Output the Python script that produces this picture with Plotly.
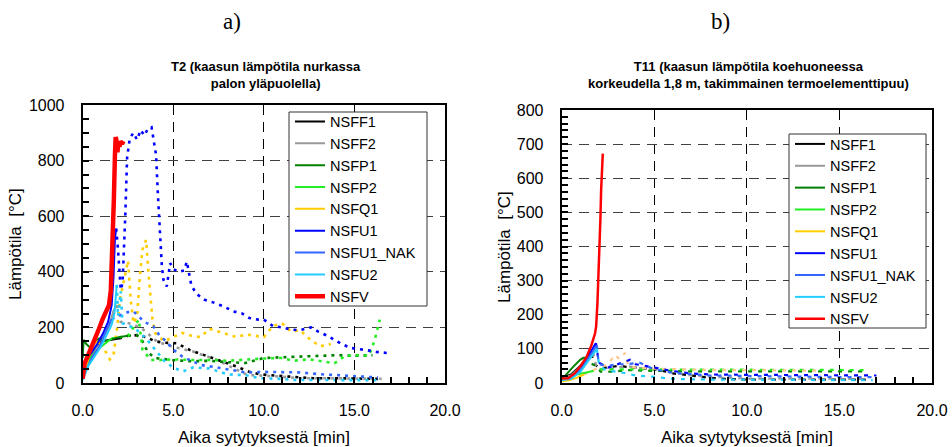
import plotly.graph_objects as go

# ---------------- DATA ----------------
NAMES = ["NSFF1", "NSFF2", "NSFP1", "NSFP2", "NSFQ1", "NSFU1", "NSFU1_NAK", "NSFU2", "NSFV"]
COLORS = ["#000000", "#999999", "#008000", "#22EE22", "#FFCC00", "#0000FF", "#3366FF", "#22CCFF", "#FF0000"]

X_TICKS = [0, 5, 10, 15, 20]

# ---- panel a) T2 : time [min] / temperature [°C]; solid part then dotted part
A_NSFF1_solid_t = [0, 0.3, 0.6, 1.0, 1.5, 2.0]
A_NSFF1_solid_v = [20, 80, 120, 150, 155, 160]
A_NSFF1_dot_t = [2.0, 2.5, 3.0, 3.5, 4.0, 4.5, 5.2, 5.9, 6.5, 7.2, 8.0, 8.5, 9.2, 9.8, 11.0, 12.7, 14.0, 15.3, 16.3]
A_NSFF1_dot_v = [160, 170, 172, 165, 150, 145, 143, 119, 105, 89, 72, 59, 40, 31, 25, 17, 17, 17, 15]

A_NSFF2_solid_t = [0, 0.5, 1.0, 1.4, 1.7, 1.9]
A_NSFF2_solid_v = [15, 100, 160, 190, 260, 280]
A_NSFF2_dot_t = [1.9, 2.1, 2.6, 3.2, 3.7, 4.1, 5.0, 6.1, 7.4, 8.3, 9.1, 10.7, 12.0, 13.5, 15.0, 16.5]
A_NSFF2_dot_v = [280, 220, 214, 200, 172, 149, 130, 113, 83, 53, 29, 24, 17, 17, 16, 15]

A_NSFP1_solid_t = [0, 0.05, 0.2, 0.4, 0.6, 0.9, 1.2, 1.5, 2.0, 2.5]
A_NSFP1_solid_v = [90, 155, 140, 128, 140, 160, 150, 155, 165, 170]
A_NSFP1_dot_t = [2.5, 3.0, 3.3, 3.6, 4.0, 5.0, 6.0, 7.0, 8.0, 9.0, 10.0, 11.0, 12.0, 13.0, 14.0, 15.0, 16.0]
A_NSFP1_dot_v = [170, 172, 150, 110, 90, 82, 78, 80, 75, 72, 90, 92, 95, 96, 100, 98, 100]

A_NSFP2_solid_t = [0, 0.4, 0.8, 1.2, 1.6]
A_NSFP2_solid_v = [20, 90, 120, 140, 160]
A_NSFP2_dot_t = [1.6, 2.0, 2.5, 2.9, 3.1, 3.3, 3.75, 4.3, 5.0, 6.0, 7.2, 8.0, 9.0, 10.0, 11.0, 11.6, 12.5, 13.9, 14.5, 15.2, 15.8, 16.1, 16.4]
A_NSFP2_dot_v = [160, 165, 170, 210, 228, 120, 83, 83, 85, 83, 83, 80, 85, 88, 90, 80, 85, 71, 98, 100, 98, 150, 228]

A_NSFQ1_solid_t = [0, 0.3, 0.5, 0.8, 1.0]
A_NSFQ1_solid_v = [15, 80, 130, 150, 140]
A_NSFQ1_dot_t = [1.0, 1.2, 1.5, 1.7, 1.9, 2.05, 2.25, 2.5, 2.65, 2.8, 3.0, 3.15, 3.3, 3.5, 3.65, 3.85, 4.0, 4.5, 5.0, 5.5, 6.0, 6.5, 7.0, 7.5, 8.0, 8.5, 9.0, 9.5, 10.0, 10.5, 11.0, 11.5, 12.0, 12.5, 13.1, 13.7]
A_NSFQ1_dot_v = [140, 120, 85, 100, 200, 300, 360, 440, 300, 215, 240, 380, 480, 515, 380, 230, 180, 150, 165, 180, 170, 165, 195, 185, 175, 165, 175, 170, 165, 205, 215, 185, 190, 160, 132, 140]

A_NSFU1_solid_t = [0, 0.2, 0.5, 0.8, 1.1, 1.4, 1.6, 1.7, 1.78, 1.85]
A_NSFU1_solid_v = [30, 90, 110, 140, 175, 220, 280, 380, 520, 555]
A_NSFU1_dot_t = [1.85, 1.95, 2.1, 2.2, 2.35, 2.45, 2.6, 2.8, 3.0, 3.2, 3.4, 3.6, 3.8, 3.9, 4.05, 4.15, 4.25, 4.37, 4.46, 4.64, 4.83, 5.0, 5.3, 5.6, 5.75, 6.0, 6.3, 6.7, 7.2, 7.8, 8.3, 8.8, 9.2, 9.7, 10.0, 10.5, 11.0, 11.5, 12.0, 12.6, 13.0, 13.5, 13.9, 14.3, 14.8, 15.3, 15.7, 16.2, 16.8]
A_NSFU1_dot_v = [555, 480, 335, 360, 600, 810, 880, 900, 875, 910, 890, 915, 920, 880, 820, 680, 550, 420, 371, 347, 431, 410, 400, 405, 437, 350, 320, 300, 290, 275, 258, 250, 234, 228, 228, 205, 200, 192, 190, 200, 185, 170, 155, 140, 126, 122, 118, 112, 108]

A_NSFU1_NAK_solid_t = [0, 0.5, 1.0, 1.3, 1.6]
A_NSFU1_NAK_solid_v = [20, 90, 140, 190, 230]
A_NSFU1_NAK_dot_t = [1.6, 2.0, 2.5, 2.8, 3.0, 3.4, 3.9, 4.2, 4.6, 5.0, 5.5, 6.0, 6.5, 7.5, 8.5, 9.0, 10.0, 11.0, 12.0, 13.0, 14.0, 15.0, 16.3]
A_NSFU1_NAK_dot_v = [230, 240, 255, 258, 245, 220, 204, 175, 150, 120, 95, 80, 65, 55, 45, 38, 40, 38, 38, 32, 28, 24, 20]

A_NSFU2_solid_t = [0, 0.3, 0.6, 1.0, 1.3, 1.6, 1.75, 1.88]
A_NSFU2_solid_v = [10, 60, 90, 130, 170, 210, 250, 353]
A_NSFU2_dot_t = [1.88, 1.95, 2.1, 2.2, 2.6, 3.0, 3.5, 4.0, 4.5, 5.0, 5.55, 6.1, 7.0, 8.0, 9.0, 9.8, 10.9, 11.6, 13.0, 14.5, 16.4]
A_NSFU2_dot_v = [353, 240, 330, 215, 205, 190, 160, 120, 80, 55, 42, 56, 52, 31, 28, 17, 15, 11, 11, 10, 10]

A_NSFV_solid_t = [0, 0.1, 0.3, 0.5, 0.7, 0.9, 1.1, 1.3, 1.45, 1.55, 1.65, 1.72, 1.78, 1.82, 1.87, 1.92, 1.97, 2.03, 2.1, 2.17, 2.25]
A_NSFV_solid_v = [15, 70, 100, 130, 160, 195, 230, 265, 280, 330, 480, 660, 820, 885, 870, 830, 870, 850, 870, 860, 870]
A_NSFV_dot_t = []
A_NSFV_dot_v = []

# ---- panel b) T11
B_NSFF1_solid_t = [0, 0.5, 1.0, 1.4, 1.6]
B_NSFF1_solid_v = [15, 25, 50, 75, 85]
B_NSFF1_dot_t = [1.6, 1.8, 2.0, 2.5, 3.0, 3.5, 4.0, 5.0, 5.5, 6.0, 7.0, 8.0, 9.0, 10.0, 12.0, 14.0, 16.5]
B_NSFF1_dot_v = [85, 55, 45, 45, 50, 48, 45, 40, 35, 28, 22, 15, 12, 10, 10, 10, 10]

B_NSFF2_solid_t = [0, 0.5, 1.0, 1.4, 1.7]
B_NSFF2_solid_v = [14, 22, 48, 72, 90]
B_NSFF2_dot_t = [1.7, 1.9, 2.5, 3.0, 3.5, 4.0, 5.0, 6.0, 7.0, 8.0, 10.0, 12.0, 14.0, 16.5]
B_NSFF2_dot_v = [90, 40, 40, 45, 50, 45, 40, 30, 22, 18, 13, 13, 13, 12]

B_NSFP1_solid_t = [0, 0.18, 0.63, 1.0, 1.2]
B_NSFP1_solid_v = [15, 21, 48, 68, 75]
B_NSFP1_dot_t = [1.2, 1.5, 1.9, 2.1, 2.8, 3.5, 4.5, 5.7, 7.0, 9.0, 11.0, 13.0, 15.0, 16.3]
B_NSFP1_dot_v = [75, 60, 48, 33, 33, 38, 36, 34, 34, 34, 34, 34, 34, 34]

B_NSFP2_solid_t = [0, 0.5, 0.8, 1.2, 1.53]
B_NSFP2_solid_v = [10, 15, 25, 30, 33]
B_NSFP2_dot_t = [1.53, 2.0, 3.0, 4.0, 5.0, 6.0, 8.0, 10.0, 12.0, 14.0, 16.3]
B_NSFP2_dot_v = [33, 40, 40, 40, 40, 38, 38, 38, 38, 38, 38]

B_NSFQ1_solid_t = [0, 0.4, 0.8, 1.2]
B_NSFQ1_solid_v = [5, 8, 15, 25]
B_NSFQ1_dot_t = [1.2, 1.8, 2.0, 2.5, 2.88, 3.1, 3.42, 3.6, 4.0, 5.0, 6.0, 8.0, 10.0, 12.0, 13.8]
B_NSFQ1_dot_v = [25, 40, 45, 55, 83, 70, 88, 50, 45, 42, 40, 38, 38, 37, 36]

B_NSFU1_solid_t = [0, 0.5, 1.0, 1.4, 1.7, 1.85]
B_NSFU1_solid_v = [10, 15, 40, 75, 100, 117]
B_NSFU1_dot_t = [1.85, 2.0, 2.5, 3.0, 3.7, 4.0, 5.0, 6.0, 7.0, 8.0, 10.0, 12.0, 14.0, 16.5, 17.0]
B_NSFU1_dot_v = [117, 60, 45, 55, 68, 55, 45, 35, 28, 25, 24, 24, 24, 22, 22]

B_NSFU1_NAK_solid_t = [0, 0.5, 1.0, 1.4, 1.7, 1.9]
B_NSFU1_NAK_solid_v = [10, 14, 38, 70, 95, 110]
B_NSFU1_NAK_dot_t = [1.9, 2.0, 2.5, 3.0, 3.5, 4.2, 5.0, 6.0, 8.0, 10.0, 12.0, 14.0, 16.8]
B_NSFU1_NAK_dot_v = [110, 55, 50, 55, 55, 60, 40, 30, 22, 20, 18, 18, 17]

B_NSFU2_solid_t = [0, 0.5, 1.0, 1.4, 1.7, 1.9]
B_NSFU2_solid_v = [8, 12, 32, 62, 85, 100]
B_NSFU2_dot_t = [1.9, 2.0, 2.3, 2.7, 3.3, 4.0, 5.0, 6.0, 8.0, 10.0, 12.0, 14.0, 16.8]
B_NSFU2_dot_v = [100, 60, 40, 35, 30, 22, 18, 12, 10, 10, 8, 8, 8]

B_NSFV_solid_t = [0, 0.35, 0.7, 1.05, 1.35, 1.6, 1.8, 1.86, 1.93, 2.0, 2.04, 2.09, 2.13, 2.18, 2.22]
B_NSFV_solid_v = [13, 14, 28, 52, 77, 110, 145, 166, 234, 330, 400, 480, 566, 630, 672]
B_NSFV_dot_t = []
B_NSFV_dot_v = []

PANEL_A = [
    (A_NSFF1_solid_t, A_NSFF1_solid_v, A_NSFF1_dot_t, A_NSFF1_dot_v),
    (A_NSFF2_solid_t, A_NSFF2_solid_v, A_NSFF2_dot_t, A_NSFF2_dot_v),
    (A_NSFP1_solid_t, A_NSFP1_solid_v, A_NSFP1_dot_t, A_NSFP1_dot_v),
    (A_NSFP2_solid_t, A_NSFP2_solid_v, A_NSFP2_dot_t, A_NSFP2_dot_v),
    (A_NSFQ1_solid_t, A_NSFQ1_solid_v, A_NSFQ1_dot_t, A_NSFQ1_dot_v),
    (A_NSFU1_solid_t, A_NSFU1_solid_v, A_NSFU1_dot_t, A_NSFU1_dot_v),
    (A_NSFU1_NAK_solid_t, A_NSFU1_NAK_solid_v, A_NSFU1_NAK_dot_t, A_NSFU1_NAK_dot_v),
    (A_NSFU2_solid_t, A_NSFU2_solid_v, A_NSFU2_dot_t, A_NSFU2_dot_v),
    (A_NSFV_solid_t, A_NSFV_solid_v, A_NSFV_dot_t, A_NSFV_dot_v),
]
PANEL_B = [
    (B_NSFF1_solid_t, B_NSFF1_solid_v, B_NSFF1_dot_t, B_NSFF1_dot_v),
    (B_NSFF2_solid_t, B_NSFF2_solid_v, B_NSFF2_dot_t, B_NSFF2_dot_v),
    (B_NSFP1_solid_t, B_NSFP1_solid_v, B_NSFP1_dot_t, B_NSFP1_dot_v),
    (B_NSFP2_solid_t, B_NSFP2_solid_v, B_NSFP2_dot_t, B_NSFP2_dot_v),
    (B_NSFQ1_solid_t, B_NSFQ1_solid_v, B_NSFQ1_dot_t, B_NSFQ1_dot_v),
    (B_NSFU1_solid_t, B_NSFU1_solid_v, B_NSFU1_dot_t, B_NSFU1_dot_v),
    (B_NSFU1_NAK_solid_t, B_NSFU1_NAK_solid_v, B_NSFU1_NAK_dot_t, B_NSFU1_NAK_dot_v),
    (B_NSFU2_solid_t, B_NSFU2_solid_v, B_NSFU2_dot_t, B_NSFU2_dot_v),
    (B_NSFV_solid_t, B_NSFV_solid_v, B_NSFV_dot_t, B_NSFV_dot_v),
]

# ---------------- FIGURE ----------------
W, H = 952, 447
SANS = "Liberation Sans, Arial, sans-serif"
fig = go.Figure()

def add_panel(panel, xa, ya, legend, tag, red_w, dot_w, dot_dash, q_dot_color):
    # dotted parts first (behind)
    for i, (st, sv, dt, dv) in enumerate(panel):
        if dt:
            col = COLORS[i]
            if NAMES[i] == "NSFQ1" and q_dot_color:
                col = q_dot_color
            fig.add_trace(go.Scatter(x=dt, y=dv, mode="lines", xaxis=xa, yaxis=ya,
                                     line=dict(color=col, width=dot_w, dash=dot_dash),
                                     showlegend=False, legendgroup=tag + NAMES[i],
                                     legend=legend, hoverinfo="skip"))
    for i, (st, sv, dt, dv) in enumerate(panel):
        w = red_w if NAMES[i] == "NSFV" else 2
        fig.add_trace(go.Scatter(x=st, y=sv, mode="lines", xaxis=xa, yaxis=ya, name=NAMES[i],
                                 line=dict(color=COLORS[i], width=w),
                                 legendgroup=tag + NAMES[i], legend=legend))

add_panel(PANEL_A, "x", "y", "legend", "a", 4.5, 2.6, "3px,5px", None)
add_panel(PANEL_B, "x2", "y2", "legend2", "b", 2.5, 2.2, "4px,6px", "#FFC890")

def px_x(p): return p / W
def px_y(p): return 1 - p / H

axis_common = dict(showline=True, linecolor="black", linewidth=2, mirror=True,
                   ticks="inside", tickcolor="black", tickwidth=1.5, ticklen=6,
                   tickfont=dict(family=SANS, size=16, color="black"),
                   zeroline=False, showgrid=True, gridwidth=1, automargin=False)

xcommon = dict(axis_common, range=[0, 20], tickvals=X_TICKS,
               ticktext=[f"{v:.1f}" for v in X_TICKS], gridcolor="#000000",
               griddash="10px,7px",
               minor=dict(dtick=1, ticks="inside", ticklen=6, tickcolor="black", tickwidth=1.5, showgrid=False),
               ticklabelstandoff=12)
ycommon = dict(axis_common, gridcolor="#404040", griddash="10px,7px", ticklabelstandoff=13)

legend_common = dict(xanchor="left", yanchor="top", bgcolor="rgba(0,0,0,0)", borderwidth=0,
                     font=dict(family=SANS, size=14.5, color="black"), tracegroupgap=0,
                     traceorder="normal")

fig.update_layout(
    width=W, height=H, margin=dict(l=0, r=0, t=0, b=0, pad=0, autoexpand=False),
    paper_bgcolor="white", plot_bgcolor="white",
    xaxis=dict(xcommon, domain=[px_x(82.7), px_x(445)], anchor="y"),
    yaxis=dict(ycommon, domain=[px_y(383), px_y(105)], range=[0, 1000], dtick=200,
               minor=dict(dtick=50, ticks="inside", ticklen=6, tickcolor="black", tickwidth=1.5, showgrid=False),
               anchor="x"),
    xaxis2=dict(xcommon, domain=[px_x(561.7), px_x(932)], anchor="y2"),
    yaxis2=dict(ycommon, domain=[px_y(383), px_y(110)], range=[0, 800], dtick=100,
                minor=dict(dtick=20, ticks="inside", ticklen=6, tickcolor="black", tickwidth=1.5, showgrid=False),
                anchor="x2"),
    legend=dict(legend_common, x=px_x(290), y=px_y(105.5)),
    legend2=dict(legend_common, x=px_x(790), y=px_y(128)),
    showlegend=True,
)

# legend frames (white boxes with thin border, above the data)
shapes = [
    dict(type="rect", xref="paper", yref="paper", x0=px_x(289), x1=px_x(427), y0=px_y(306), y1=px_y(112),
         line=dict(color="#333333", width=1), fillcolor="white", layer="above"),
    dict(type="rect", xref="paper", yref="paper", x0=px_x(789), x1=px_x(926), y0=px_y(328), y1=px_y(134),
         line=dict(color="#333333", width=1), fillcolor="white", layer="above"),
]
fig.update_layout(shapes=shapes)

ann = []
def text(x, y, s, size, family=SANS, angle=0):
    ann.append(dict(x=px_x(x), y=px_y(y), xref="paper", yref="paper", text=s, showarrow=False,
                    xanchor="center", yanchor="middle", textangle=angle,
                    font=dict(family=family, size=size, color="black")))

text(232, 22, "a)", 23, family="Liberation Serif, Times New Roman, serif")
text(720, 22, "b)", 23, family="Liberation Serif, Times New Roman, serif")
text(266, 75, "<b>T2 (kaasun lämpötila nurkassa<br>palon yläpuolella)</b>", 13)
text(748, 75, "<b>T11 (kaasun lämpötila koehuoneessa<br>korkeudella 1,8 m, takimmainen termoelementtipuu)</b>", 13)
text(263.5, 437, "Aika sytytyksestä [min]", 17)
text(747, 437, "Aika sytytyksestä [min]", 17)
text(15, 244, "Lämpötila  [°C]", 17, angle=-90)
text(504, 247, "Lämpötila  [°C]", 17, angle=-90)
fig.update_layout(annotations=ann)

fig.write_html("out.html")
